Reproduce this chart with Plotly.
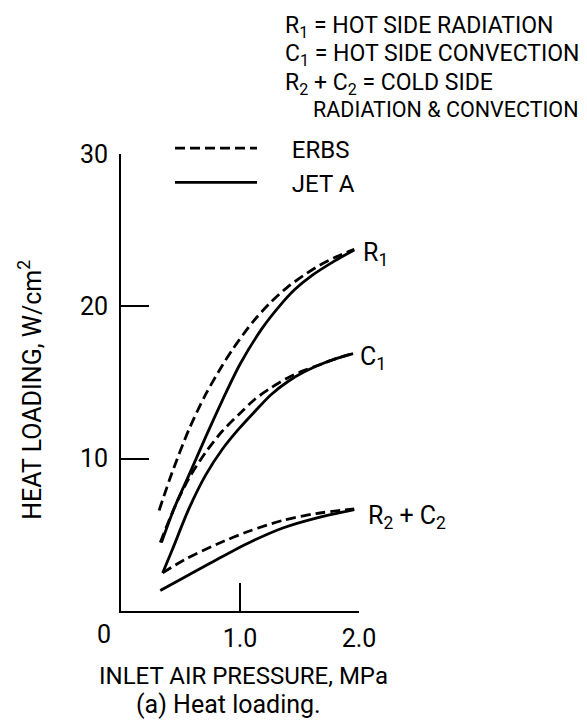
import plotly.graph_objects as go

# ---- data ----
r1_erbs_x = [0.32, 0.43, 0.57, 0.71, 0.85, 0.94, 1.11, 1.25, 1.39, 1.53, 1.67, 1.81, 1.96]
r1_erbs_y = [6.6, 9.1, 11.9, 14.2, 16.1, 17.2, 19.0, 20.2, 21.2, 22.0, 22.7, 23.25, 23.75]
r1_jeta_x = [0.34, 0.45, 0.57, 0.71, 0.85, 1.0, 1.19, 1.33, 1.46, 1.6, 1.8, 1.96]
r1_jeta_y = [4.5, 6.8, 8.9, 11.4, 13.8, 16.2, 18.6, 20.0, 21.1, 22.0, 23.0, 23.7]
c1_erbs_x = [0.33, 0.45, 0.57, 0.71, 0.85, 0.99, 1.125, 1.26, 1.40, 1.54, 1.68, 1.82, 1.95]
c1_erbs_y = [4.5, 6.8, 8.7, 10.4, 11.8, 12.9, 13.9, 14.65, 15.3, 15.8, 16.2, 16.6, 16.9]
c1_jeta_x = [0.35, 0.43, 0.57, 0.71, 0.85, 0.99, 1.125, 1.26, 1.40, 1.54, 1.68, 1.82, 1.95]
c1_jeta_y = [2.5, 4.0, 6.7, 8.9, 10.6, 11.95, 13.1, 14.2, 15.05, 15.7, 16.2, 16.6, 16.9]
rc2_erbs_x = [0.35, 0.53, 0.81, 1.08, 1.36, 1.64, 1.96]
rc2_erbs_y = [2.5, 3.35, 4.4, 5.25, 5.95, 6.4, 6.7]
rc2_jeta_x = [0.33, 0.53, 0.81, 1.08, 1.36, 1.64, 1.96]
rc2_jeta_y = [1.35, 2.2, 3.4, 4.5, 5.45, 6.1, 6.65]

x_tick_vals = [1.0, 2.0]
x_tick_text = ["1.0", "2.0"]
y_tick_vals = [10, 20, 30]
y_tick_text = ["10", "20", "30"]

FONT = "Roboto, Liberation Sans, sans-serif"
FS = 25
W, H = 587, 722
L, R_EDGE, T, B_EDGE = 121, 359, 154, 611.5
X_MAX, Y_MAX = 2.0, 30.0


def px2paper_x(px):
    return (px - L) / (R_EDGE - L)


def px2paper_y(py):
    return (B_EDGE - py) / (B_EDGE - T)


DASH = "10px,5px"
LW = 2.8

fig = go.Figure()
series = [
    (r1_erbs_x, r1_erbs_y, "ERBS", DASH, True),
    (r1_jeta_x, r1_jeta_y, "JET A", "solid", True),
    (c1_erbs_x, c1_erbs_y, "ERBS", DASH, False),
    (c1_jeta_x, c1_jeta_y, "JET A", "solid", False),
    (rc2_erbs_x, rc2_erbs_y, "ERBS", DASH, False),
    (rc2_jeta_x, rc2_jeta_y, "JET A", "solid", False),
]
for xs, ys, name, dash, show in series:
    fig.add_trace(go.Scatter(
        x=xs, y=ys, mode="lines", name="\u00a0\u00a0\u00a0\u00a0\u00a0" + name, legendgroup=name,
        showlegend=show, line=dict(color="black", width=LW, dash=dash, shape="spline", smoothing=0.8),
        hoverinfo="skip", cliponaxis=False,
    ))

annotations = []
# curve labels, placed next to the curve ends (data coords -> paper)
curve_labels = [
    (r1_erbs_x[-1] + 0.06, r1_erbs_y[-1] - 0.3, "R<sub>1</sub>"),
    (c1_erbs_x[-1] + 0.04, c1_erbs_y[-1] - 0.3, "C<sub>1</sub>"),
    (rc2_erbs_x[-1] + 0.10, rc2_erbs_y[-1] - 0.5, "R<sub>2</sub> + C<sub>2</sub>"),
]
for lx, ly, txt in curve_labels:
    annotations.append(dict(x=lx / X_MAX, y=ly / Y_MAX, xref="paper", yref="paper", text=txt,
                            xanchor="left", yanchor="middle", showarrow=False))
# origin label
annotations.append(dict(x=px2paper_x(104), y=px2paper_y(635), xref="paper", yref="paper", text="0",
                        xanchor="center", yanchor="middle", showarrow=False))
# axis titles
annotations.append(dict(x=px2paper_x(243), y=px2paper_y(677), xref="paper", yref="paper",
                        text="INLET AIR PRESSURE, MPa", xanchor="center", yanchor="middle",
                        showarrow=False, font=dict(size=24)))
annotations.append(dict(x=px2paper_x(228), y=px2paper_y(705), xref="paper", yref="paper",
                        text="(a) Heat loading.", xanchor="center", yanchor="middle", showarrow=False))
annotations.append(dict(x=px2paper_x(31), y=px2paper_y(390), xref="paper", yref="paper",
                        text="HEAT LOADING, W/cm<sup>2</sup>", textangle=-90,
                        xanchor="center", yanchor="middle", showarrow=False))
# key text top right
key_lines = [
    (283, 15, "R<sub>1</sub> = HOT SIDE RADIATION", 23),
    (283, 43, "C<sub>1</sub> = HOT SIDE CONVECTION", 23),
    (283, 72, "R<sub>2</sub> + C<sub>2</sub> = COLD SIDE", 23),
    (311, 100, "RADIATION &amp; CONVECTION", 21.5),
]
for kx, ky, txt, ks in key_lines:
    annotations.append(dict(x=px2paper_x(kx), y=px2paper_y(ky - 5), xref="paper", yref="paper",
                            text=txt, xanchor="left", yanchor="top", showarrow=False,
                            font=dict(size=ks)))

fig.update_layout(
    width=W, height=H,
    margin=dict(l=L, r=W - R_EDGE, t=T, b=H - B_EDGE, pad=0),
    paper_bgcolor="white", plot_bgcolor="white",
    font=dict(family=FONT, size=FS, color="black"),
    showlegend=True,
    legend=dict(x=px2paper_x(170), y=px2paper_y(126), xanchor="left", yanchor="top",
                bgcolor="rgba(0,0,0,0)", borderwidth=0, itemwidth=82,
                font=dict(family=FONT, size=24, color="black"), tracegroupgap=0),
    annotations=annotations,
    xaxis=dict(range=[0, X_MAX], showgrid=False, zeroline=False, showline=True, linecolor="black",
               linewidth=2, ticks="inside", ticklen=28, tickwidth=2, tickcolor="black",
               tickvals=x_tick_vals, ticktext=x_tick_text, ticklabelstandoff=4),
    yaxis=dict(range=[0, Y_MAX], showgrid=False, zeroline=False, showline=True, linecolor="black",
               linewidth=2, ticks="inside", ticklen=28, tickwidth=2, tickcolor="black",
               tickvals=y_tick_vals, ticktext=y_tick_text, ticklabelstandoff=6),
)

fig.write_html("out.html")
